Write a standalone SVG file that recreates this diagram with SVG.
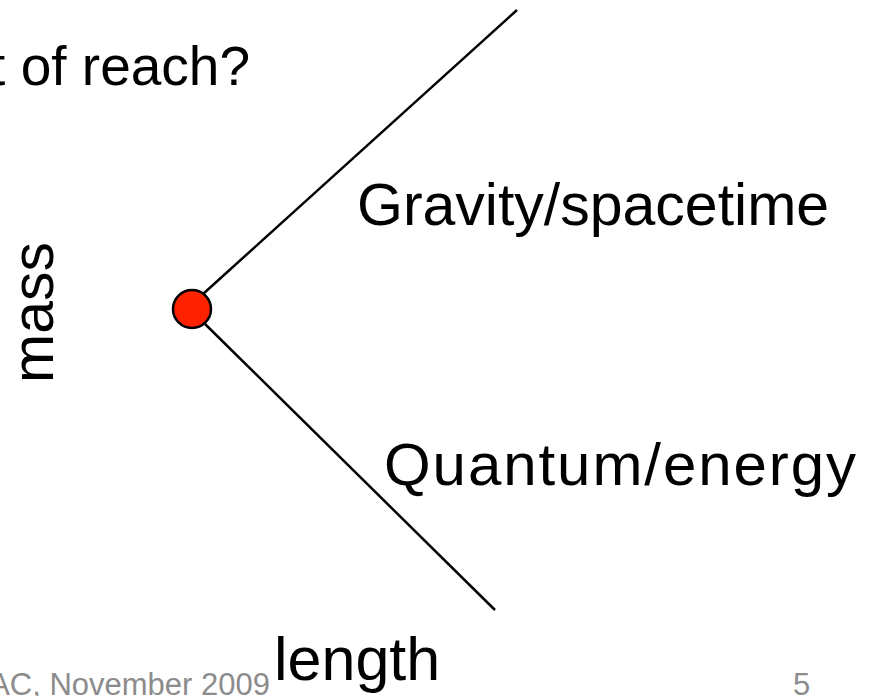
<svg xmlns="http://www.w3.org/2000/svg" width="882" height="696" viewBox="0 0 882 696">
<style>
.t{font-family:"Liberation Sans",Arial,sans-serif;font-size:59px;fill:#000}
.f{font-family:"Liberation Sans",Arial,sans-serif;font-size:31px;fill:#8c8c8c}
.ln{stroke:#000;stroke-width:2.5;fill:none}
</style>
<rect width="882" height="696" fill="#fff"/>
<g id="connectors">
<line class="ln" x1="203" y1="294" x2="517" y2="10"/>
<line class="ln" x1="205" y1="324" x2="495" y2="610"/>
</g>
<g id="origin"><circle cx="192" cy="309" r="19" fill="#ff2200" stroke="#000" stroke-width="2.5"/></g>
<g id="title"><text class="t" x="250" y="85" text-anchor="end" style="font-size:55px">t of reach?</text></g>
<g id="gravity"><text class="t" x="357" y="225">Gravity/spacetime</text></g>
<g id="quantum"><text class="t" x="384" y="485" style="font-size:60px" textLength="472" lengthAdjust="spacing">Quantum/energy</text></g>
<g id="mass"><text class="t" transform="translate(53,383) rotate(-90)">mass</text></g>
<g id="length"><text class="t" x="274" y="680" style="font-size:61px">length</text></g>
<g id="footer"><text class="f" x="270" y="695" text-anchor="end">AC, November 2009</text>
<text class="f" x="793" y="695">5</text></g>
</svg>
